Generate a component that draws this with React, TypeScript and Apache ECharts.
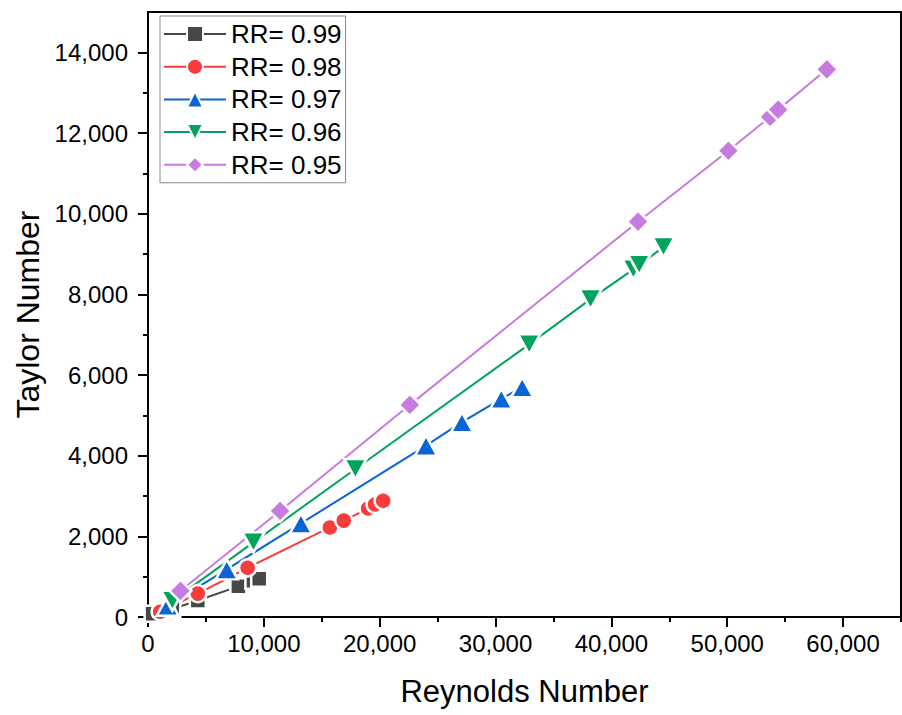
import React, { useEffect, useRef } from "react";
import * as echarts from "echarts";

const seriesNames = ["RR= 0.99", "RR= 0.98", "RR= 0.97", "RR= 0.96", "RR= 0.95"];
const seriesColors = ["#474747", "#f93b3b", "#0a64d8", "#00a35b", "#c77be0"];

const rr99X = [400, 2100, 4300, 7800, 9100, 9600];
const rr99Y = [80, 200, 410, 760, 900, 950];
const rr98X = [1050, 4300, 8600, 15700, 16900, 19000, 19600, 20300];
const rr98Y = [130, 580, 1220, 2220, 2390, 2690, 2790, 2880];
const rr97X = [1700, 6800, 13200, 24000, 27100, 30500, 32300];
const rr97Y = [280, 1180, 2320, 4250, 4830, 5410, 5700];
const rr96X = [2100, 9100, 17900, 32900, 38200, 41900, 42400, 44500];
const rr96Y = [400, 1850, 3670, 6760, 7880, 8620, 8730, 9170];
const rr95X = [2800, 11400, 22600, 42300, 50100, 53700, 54400, 58600];
const rr95Y = [650, 2630, 5260, 9800, 11560, 12400, 12580, 13580];

const xMajorTicks = [0, 10000, 20000, 30000, 40000, 50000, 60000];
const xMinorTicks = [5000, 15000, 25000, 35000, 45000, 55000, 65000];
const yMajorTicks = [0, 2000, 4000, 6000, 8000, 10000, 12000, 14000];
const yMinorTicks = [1000, 3000, 5000, 7000, 9000, 11000, 13000];

const FONT = "'Liberation Sans', Arial, sans-serif";

function zip(xs: number[], ys: number[]) {
  return xs.map((x, i) => [x, ys[i]]);
}

const fmt = (v: number) => v.toLocaleString("en-US");

export default function App() {
  const ref = useRef<HTMLDivElement>(null);
  useEffect(() => {
    if (!ref.current) return;
    const chart = echarts.init(ref.current, null, { renderer: "svg" });
    const datasets = [
      zip(rr99X, rr99Y),
      zip(rr98X, rr98Y),
      zip(rr97X, rr97Y),
      zip(rr96X, rr96Y),
      zip(rr95X, rr95Y),
    ];
    const symbols = ["rect", "circle", "triangle", "triangle", "diamond"];
    const rotates = [0, 0, 0, 180, 0];
    const sizes: any[] = [16, 17, [22, 20], [22, 20], 22];
    const baseX = {
      type: "value",
      min: 0,
      max: 65000,
      splitLine: { show: false },
    };
    const baseY = {
      type: "value",
      min: 0,
      max: 15000,
      splitLine: { show: false },
    };
    chart.setOption({
      animation: false,
      backgroundColor: "#fff",
      grid: {
        left: 148,
        right: 1,
        top: 12,
        bottom: 98,
        show: true,
        borderColor: "#000",
        borderWidth: 2,
        backgroundColor: "transparent",
      },
      legend: {
        orient: "vertical",
        left: 160,
        top: 16,
        backgroundColor: "#fff",
        borderColor: "#8a8a8a",
        borderWidth: 1,
        padding: [4, 4, 4, 3],
        itemGap: 4.7,
        itemWidth: 62,
        itemHeight: 20,
        textStyle: { fontSize: 26, lineHeight: 28, color: "#000", fontFamily: FONT },
        data: seriesNames,
      },
      xAxis: [
        {
          ...baseX,
          position: "bottom",
          name: "Reynolds Number",
          nameLocation: "middle",
          nameGap: 59,
          nameTextStyle: { fontSize: 31, color: "#000", fontFamily: FONT },
          axisLine: { show: true, onZero: false, lineStyle: { color: "#000", width: 2 } },
          axisTick: { show: true, inside: false, length: 10, customValues: xMajorTicks, lineStyle: { color: "#000", width: 2 } },
          axisLabel: { show: true, customValues: xMajorTicks, margin: 14, fontSize: 24, color: "#000", fontFamily: FONT, formatter: fmt },
        },
        {
          ...baseX,
          position: "bottom",
          axisLine: { show: false },
          axisTick: { show: true, inside: false, length: 5, customValues: xMinorTicks, lineStyle: { color: "#000", width: 2 } },
          axisLabel: { show: false },
        },
      ],
      yAxis: [
        {
          ...baseY,
          position: "left",
          name: "Taylor Number",
          nameLocation: "middle",
          nameGap: 104,
          nameTextStyle: { fontSize: 32, color: "#000", fontFamily: FONT },
          axisLine: { show: true, onZero: false, lineStyle: { color: "#000", width: 2 } },
          axisTick: { show: true, inside: false, length: 10, customValues: yMajorTicks, lineStyle: { color: "#000", width: 2 } },
          axisLabel: { show: true, customValues: yMajorTicks, margin: 20, fontSize: 24, color: "#000", fontFamily: FONT, formatter: fmt },
        },
        {
          ...baseY,
          position: "left",
          axisLine: { show: false },
          axisTick: { show: true, inside: false, length: 5, customValues: yMinorTicks, lineStyle: { color: "#000", width: 2 } },
          axisLabel: { show: false },
        },
      ],
      series: datasets.map((d, i) => ({
        name: seriesNames[i],
        type: "line",
        xAxisIndex: 0,
        yAxisIndex: 0,
        data: d,
        symbol: symbols[i],
        symbolRotate: rotates[i],
        symbolSize: sizes[i],
        showAllSymbol: true,
        color: seriesColors[i],
        lineStyle: { color: seriesColors[i], width: 2 },
        itemStyle: { color: seriesColors[i], borderColor: "#fff", borderWidth: 2.5 },
        emphasis: { disabled: true },
      })),
    });
    return () => chart.dispose();
  }, []);
  return (
    <div
      ref={ref}
      style={{ position: "absolute", left: 0, top: 0, width: 902, height: 715, background: "#fff" }}
    />
  );
}
